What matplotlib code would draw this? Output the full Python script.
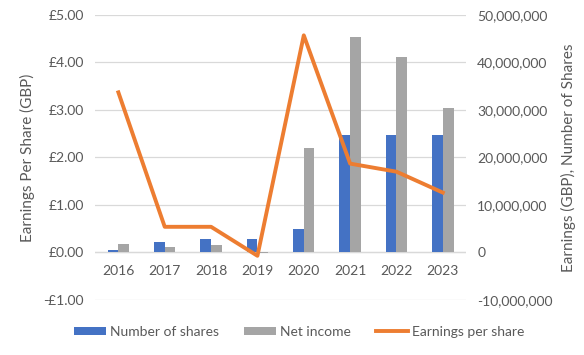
import matplotlib
matplotlib.use("Agg")
import matplotlib.pyplot as plt
import matplotlib.ticker as mticker
import numpy as np

# Dades llegides del gràfic
years = ["2016", "2017", "2018", "2019", "2020", "2021", "2022", "2023"]
num_shares = [550000, 2150000, 2850000, 2850000, 4950000, 24700000, 24700000, 24700000]
net_income = [1750000, 1200000, 1600000, -200000, 21900000, 45300000, 41100000, 30400000]
eps = [3.37, 0.54, 0.54, -0.07, 4.57, 1.87, 1.70, 1.26]

text_col = "#595959"
plt.rcParams["font.family"] = ["Lato", "DejaVu Sans"]
plt.rcParams["font.size"] = 10

fig = plt.figure(figsize=(5.84, 3.55), dpi=100)
ax = fig.add_axes([0.163, 0.155, 0.635, 0.803])
ax2 = ax.twinx()

x = np.arange(len(years))
w = 0.23

# Barres a l'eix dret
ax2.bar(x - w / 2, num_shares, w, color="#4472C4", label="Number of shares", zorder=2)
ax2.bar(x + w / 2, net_income, w, color="#A5A5A5", label="Net income", zorder=2)
ax2.set_ylim(-10000000, 50000000)
ax2.set_yticks(np.arange(-10000000, 50000001, 10000000))
ax2.yaxis.set_major_formatter(mticker.FuncFormatter(lambda v, p: f"{v:,.0f}"))
ax2.set_ylabel("Earnings (GBP), Number of Shares", color=text_col, fontsize=11, labelpad=6)

# Línia a l'eix esquerre (per sobre de les barres)
ax.set_zorder(ax2.get_zorder() + 1)
ax.patch.set_visible(False)
ax.plot(x, eps, color="#ED7D31", lw=2.8, label="Earnings per share", zorder=3,
        solid_joinstyle="round")
ax.set_ylim(-1, 5)
ax.set_yticks(np.arange(-1, 5.01, 1))
ax.yaxis.set_major_formatter(mticker.FuncFormatter(
    lambda v, p: f"-£{abs(v):.2f}" if v < 0 else f"£{v:.2f}"))
ax.set_ylabel("Earnings Per Share (GBP)", color=text_col, fontsize=11, labelpad=6)
ax.set_xlim(-0.5, len(years) - 0.5)
ax.set_xticks(x)
ax.set_xticklabels(years)

# Graella
for v in np.arange(-1, 5.01, 1):
    ax2.axhline(v * 10000000, color="#D9D9D9", lw=0.9, zorder=0)
ax2.axhline(0, color="#D9D9D9", lw=0.9, zorder=1)

for a in (ax, ax2):
    for s in a.spines.values():
        s.set_visible(False)
    a.tick_params(colors=text_col, labelsize=10, length=0, pad=8)

# Etiquetes de l'eix x just sota la línia de zero
for lbl in ax.get_xticklabels():
    lbl.set_visible(False)
for i, yr in enumerate(years):
    ax.text(i, -0.26, yr, ha="center", va="top", color=text_col, fontsize=10)

h1, l1 = ax2.get_legend_handles_labels()
h2, l2 = ax.get_legend_handles_labels()
fig.legend(h1 + h2, l1 + l2, loc="center", bbox_to_anchor=(0.512, 0.065), ncol=3,
           frameon=False, fontsize=10, labelcolor=text_col, handlelength=2.3,
           handleheight=0.5, columnspacing=1.8, handletextpad=0.3)

fig.savefig("out.png", dpi=100)
